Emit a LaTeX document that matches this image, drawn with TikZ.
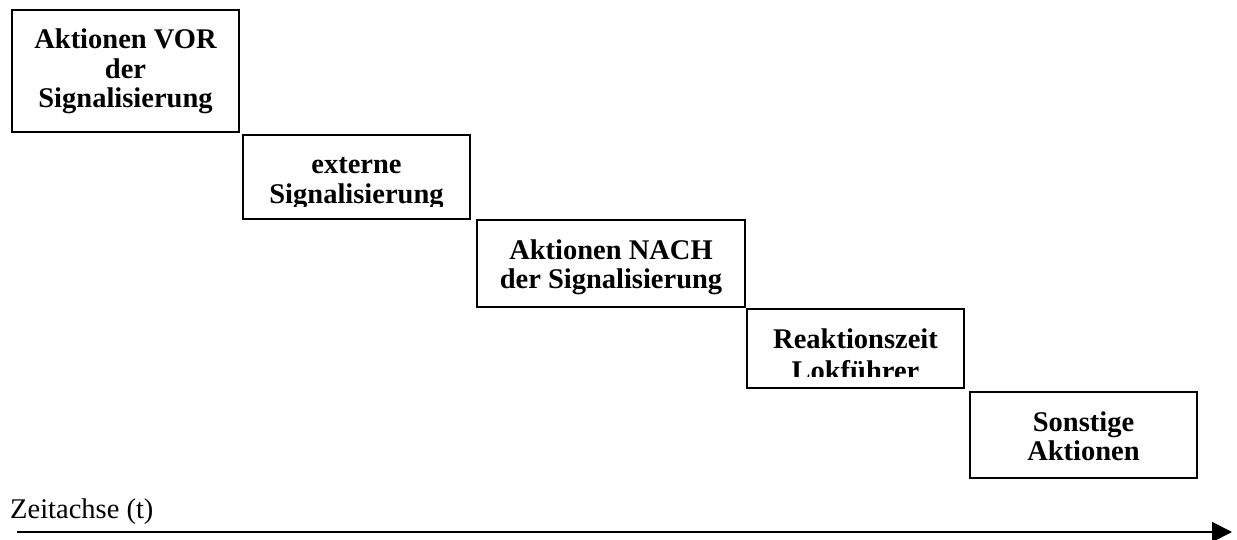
\documentclass[tikz,border=0pt]{standalone}
\usepackage{fontspec}
\setmainfont{Liberation Serif}
\usepackage{tikz}
\usetikzlibrary{arrows.meta, positioning}
\tikzset{
  % Phase box
  phase/.style={
    rectangle, draw=black, line width=1.8pt,
    fill=white, inner sep=0pt, outer sep=0pt
  },
  % Text inside a phase box (anchored at its last baseline)
  phase_text/.style={
    align=center, inner sep=0pt, anchor=base,
    font=\fontsize{28.5}{29.5}\selectfont\bfseries
  },
  % Axis label
  axis_text/.style={
    inner sep=0pt, font=\fontsize{28.5}{30}\selectfont
  },
  % Arrow style
  arrow/.style={
    -{Triangle[length=20pt, width=20pt]}, line width=1.8pt, draw=black
  }
}
\begin{document}
\begin{tikzpicture}[x=1pt, y=-1pt]
\useasboundingbox (0,0) rectangle (1237,540);

% Phase boxes
\node[phase, anchor=north west, minimum width=227pt, minimum height=122pt]
  (act_before) at (12,10) {};

\node[phase, minimum width=227pt, minimum height=84pt,
      below right=3pt and 4pt of act_before] (ext_signal) {};

\node[phase, minimum width=268pt, minimum height=87pt,
      below right=1pt and 7pt of ext_signal] (act_after) {};

\node[phase, minimum width=217pt, minimum height=79pt,
      below right=2pt and 2pt of act_after] (reaction) {};

\node[phase, minimum width=227pt, minimum height=86pt,
      below right=4pt and 6pt of reaction] (other_act) {};

% Texts (cut off at the inner margin)
\begin{scope}
  \clip (act_before.north west) rectangle ([yshift=12pt]act_before.south east);
  \node[phase_text] (act_before_text) at ([yshift=-98pt]act_before.north)
    {Aktionen VOR\\der\\Signalisierung};
\end{scope}

\begin{scope}
  \clip (ext_signal.north west) rectangle ([yshift=12pt]ext_signal.south east);
  \node[phase_text] (ext_signal_text) at ([yshift=-68.5pt]ext_signal.north)
    {externe\\Signalisierung};
\end{scope}

\begin{scope}
  \clip (act_after.north west) rectangle ([yshift=12pt]act_after.south east);
  \node[phase_text] (act_after_text) at ([yshift=-68.5pt]act_after.north)
    {Aktionen NACH\\der Signalisierung};
\end{scope}

\begin{scope}
  \clip (reaction.north west) rectangle ([yshift=12pt]reaction.south east);
  \node[phase_text] (reaction_text) at ([yshift=-71.5pt]reaction.north)
    {Reaktionszeit\\[3pt]Lokführer};
\end{scope}

\begin{scope}
  \clip (other_act.north west) rectangle ([yshift=12pt]other_act.south east);
  \node[phase_text] (other_act_text) at ([yshift=-68.5pt]other_act.north)
    {Sonstige\\Aktionen};
\end{scope}

% Time axis
\node[axis_text, anchor=base west] (axis_label) at (10,518) {Zeitachse (t)};
\coordinate (axis_start) at (17,532);
\coordinate (axis_end) at (1232,532);
\draw[arrow] (axis_start) -- (axis_end);

\end{tikzpicture}
\end{document}
